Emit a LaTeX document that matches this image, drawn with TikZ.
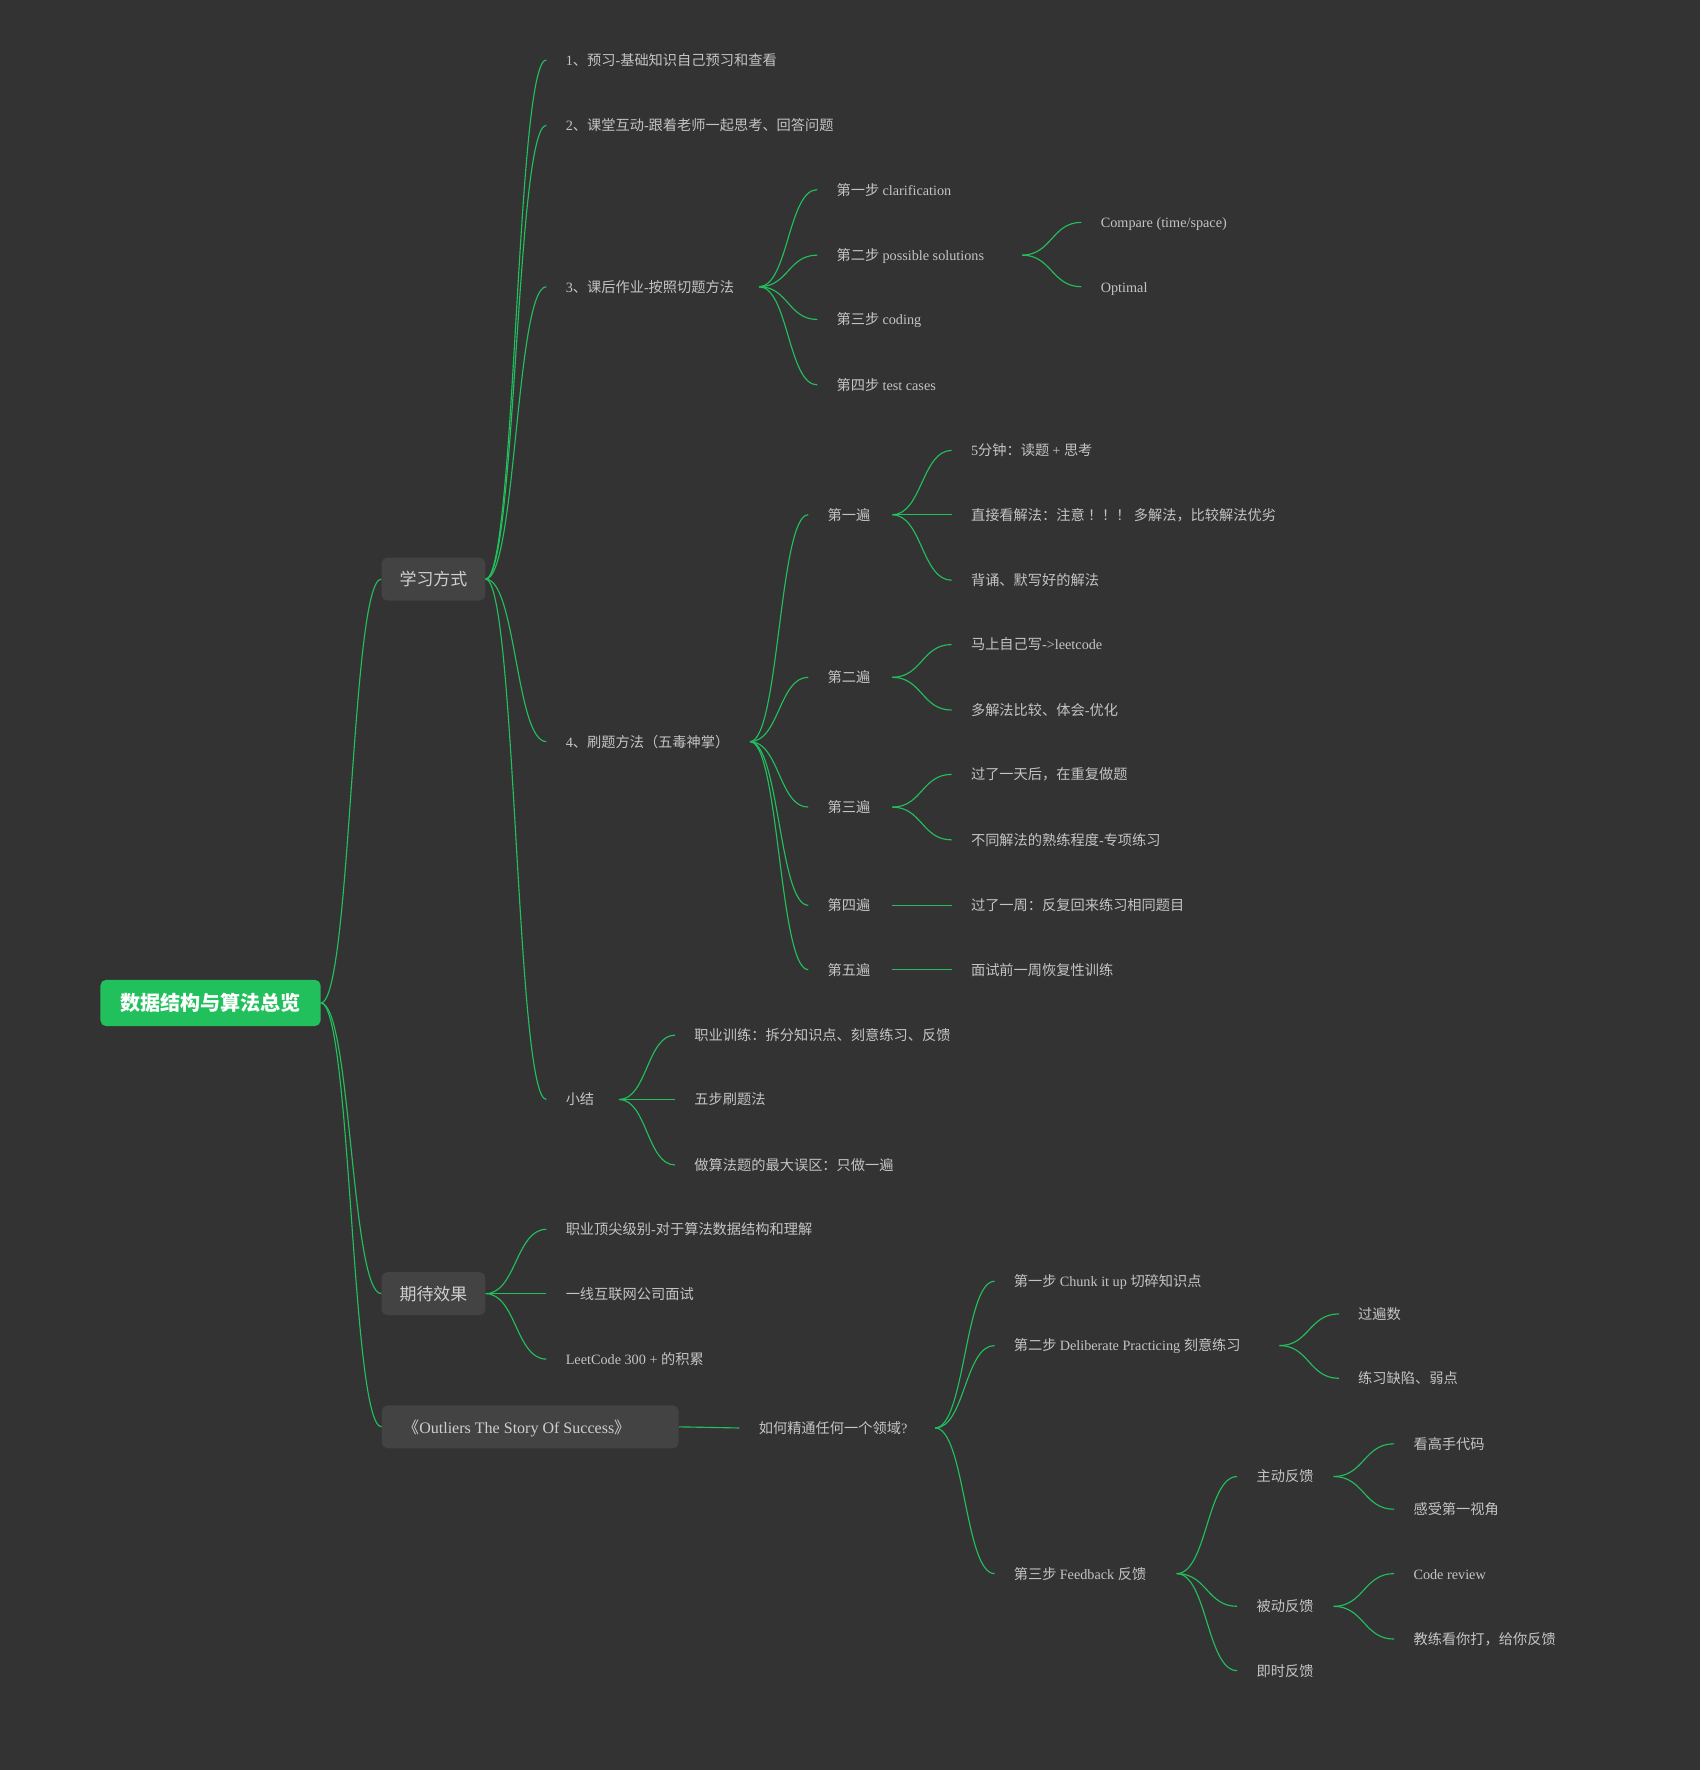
\documentclass[tikz,border=0pt]{standalone}
\usepackage{fontspec}
\setmainfont{Liberation Serif}
\newfontfamily\cjkfont{Noto Sans CJK SC}
\usetikzlibrary{calc}

% switch to the CJK family for Han characters and full-width punctuation
\XeTeXinterchartokenstate=1
\newXeTeXintercharclass\cjkclass
\newcount\cjkcode
\cjkcode="2E80
\loop\ifnum\cjkcode<"A000
  \XeTeXcharclass\cjkcode=\cjkclass
  \advance\cjkcode by 1
\repeat
\cjkcode="FF00
\loop\ifnum\cjkcode<"FFF0
  \XeTeXcharclass\cjkcode=\cjkclass
  \advance\cjkcode by 1
\repeat
\XeTeXinterchartoks 0 \cjkclass = {\cjkfont}
\XeTeXinterchartoks 4095 \cjkclass = {\cjkfont}
\XeTeXinterchartoks \cjkclass 0 = {\rmfamily}
\XeTeXinterchartoks 4095 0 = {\rmfamily}

\definecolor{bgc}{HTML}{333333}
\definecolor{mmgreen}{HTML}{22C05C}
\definecolor{topicfill}{HTML}{434343}
\definecolor{txtc}{HTML}{C4C4C4}
\definecolor{topictxt}{HTML}{CFCFCF}

% fixed-width, left-aligned label content
\newcommand\wfix[2]{\makebox[#1pt][l]{#2}}
% curved mind-map branch between two anchors
\newcommand\mmlink[2]{\draw[link] let \p1=(#1), \p2=(#2) in
  (\p1) .. controls ({(\x1+\x2)/2},\y1) and ({(\x1+\x2)/2},\y2) .. (\p2);}

\begin{document}
\begin{tikzpicture}[x=1pt,y=-1pt,
  link/.style={draw=mmgreen, line width=1pt},
  leaf/.style={anchor=west, inner xsep=17pt, inner ysep=0pt, text=txtc,
    font=\fontsize{12.6}{15}\selectfont, text height=11.1pt, text depth=1.5pt},
  topic/.style={rounded corners=5pt, fill=topicfill, text=topictxt,
    font=\fontsize{15}{18}\selectfont, minimum height=38pt, inner ysep=0pt,
    text height=13.2pt, text depth=1.8pt},
  rootbox/.style={rounded corners=5pt, fill=mmgreen, text=white,
    font=\fontsize{17.8}{21}\selectfont\bfseries, minimum width=195pt,
    minimum height=41pt, inner sep=0pt}]
\useasboundingbox (0,0) rectangle (1506,1568);
\fill[bgc] (0,0) rectangle (1506,1568);

% central topic and main branches
\node[rootbox] (root) at (186.5,888.5) {数据结构与算法总览};
\node[topic, minimum width=92pt, inner xsep=0pt] (xx) at (384,513) {学习方式};
\node[topic, minimum width=92pt, inner xsep=0pt] (qd) at (384,1146) {期待效果};
\node[topic, anchor=west, inner xsep=19pt, font=\fontsize{14.2}{17}\selectfont]
  (ol) at (338,1264) {\wfix{225}{《Outliers The Story Of Success》}};

% 学习方式
\node[leaf] (a1) at (484,53) {1、预习-基础知识自己预习和查看};
\node[leaf] (a2) at (484,111) {2、课堂互动-跟着老师一起思考、回答问题};
\node[leaf] (a3) at (484,254) {\wfix{154}{3、课后作业-按照切题方法}};
\node[leaf] (a4) at (484,657) {\wfix{146}{4、刷题方法（五毒神掌）}};
\node[leaf] (a5) at (484,974) {\wfix{30}{小结}};

\node[leaf] (b1) at (724,168) {第一步 clarification};
\node[leaf] (b2) at (724,226) {\wfix{147}{第二步 possible solutions}};
\node[leaf] (b3) at (724,283) {第三步 coding};
\node[leaf] (b4) at (724,341) {第四步 test cases};
\node[leaf] (c1) at (958,197) {Compare (time/space)};
\node[leaf] (c2) at (958,254) {Optimal};

\node[leaf] (d1) at (716,456) {\wfix{40}{第一遍}};
\node[leaf] (d2) at (716,600) {\wfix{40}{第二遍}};
\node[leaf] (d3) at (716,715) {\wfix{40}{第三遍}};
\node[leaf] (d4) at (716,802) {\wfix{40}{第四遍}};
\node[leaf] (d5) at (716,859) {\wfix{40}{第五遍}};

\node[leaf] (e11) at (843,399) {5分钟：读题 + 思考};
\node[leaf] (e12) at (843,456) {直接看解法：注意 ！！！ 多解法，比较解法优劣};
\node[leaf] (e13) at (843,514) {背诵、默写好的解法};
\node[leaf] (e21) at (843,571) {马上自己写->leetcode};
\node[leaf] (e22) at (843,629) {多解法比较、体会-优化};
\node[leaf] (e31) at (843,686) {过了一天后，在重复做题};
\node[leaf] (e32) at (843,744) {不同解法的熟练程度-专项练习};
\node[leaf] (e41) at (843,802) {过了一周：反复回来练习相同题目};
\node[leaf] (e51) at (843,859) {面试前一周恢复性训练};

\node[leaf] (g1) at (598,917) {职业训练：拆分知识点、刻意练习、反馈};
\node[leaf] (g2) at (598,974) {五步刷题法};
\node[leaf] (g3) at (598,1032) {做算法题的最大误区：只做一遍};

% 期待效果
\node[leaf] (h1) at (484,1089) {职业顶尖级别-对于算法数据结构和理解};
\node[leaf] (h2) at (484,1146) {一线互联网公司面试};
\node[leaf] (h3) at (484,1204) {LeetCode 300 + 的积累};

% Outliers
\node[leaf] (q) at (655,1265) {\wfix{139}{如何精通任何一个领域?}};
\node[leaf] (r1) at (881,1135) {第一步 Chunk it up 切碎知识点};
\node[leaf] (r2) at (881,1192) {\wfix{218}{第二步 Deliberate Practicing 刻意练习}};
\node[leaf] (r3) at (881,1394) {\wfix{127}{第三步 Feedback 反馈}};
\node[leaf] (s1) at (1186,1164) {过遍数};
\node[leaf] (s2) at (1186,1221) {练习缺陷、弱点};
\node[leaf] (t1) at (1096,1308) {\wfix{51}{主动反馈}};
\node[leaf] (t2) at (1096,1423) {\wfix{51}{被动反馈}};
\node[leaf] (t3) at (1096,1480) {即时反馈};
\node[leaf] (u1) at (1235,1279) {看高手代码};
\node[leaf] (u2) at (1235,1337) {感受第一视角};
\node[leaf] (u3) at (1235,1394) {Code review};
\node[leaf] (u4) at (1235,1452) {教练看你打，给你反馈};

% branches
\foreach \c in {xx,qd,ol} {\mmlink{root.east}{\c.west}}
\foreach \c in {a1,a2,a3,a4,a5} {\mmlink{xx.east}{\c.west}}
\foreach \c in {b1,b2,b3,b4} {\mmlink{a3.east}{\c.west}}
\foreach \c in {c1,c2} {\mmlink{b2.east}{\c.west}}
\foreach \c in {d1,d2,d3,d4,d5} {\mmlink{a4.east}{\c.west}}
\foreach \c in {e11,e12,e13} {\mmlink{d1.east}{\c.west}}
\foreach \c in {e21,e22} {\mmlink{d2.east}{\c.west}}
\foreach \c in {e31,e32} {\mmlink{d3.east}{\c.west}}
\mmlink{d4.east}{e41.west}
\mmlink{d5.east}{e51.west}
\foreach \c in {g1,g2,g3} {\mmlink{a5.east}{\c.west}}
\foreach \c in {h1,h2,h3} {\mmlink{qd.east}{\c.west}}
\mmlink{ol.east}{q.west}
\foreach \c in {r1,r2,r3} {\mmlink{q.east}{\c.west}}
\foreach \c in {s1,s2} {\mmlink{r2.east}{\c.west}}
\foreach \c in {t1,t2,t3} {\mmlink{r3.east}{\c.west}}
\foreach \c in {u1,u2} {\mmlink{t1.east}{\c.west}}
\foreach \c in {u3,u4} {\mmlink{t2.east}{\c.west}}
\end{tikzpicture}
\end{document}
